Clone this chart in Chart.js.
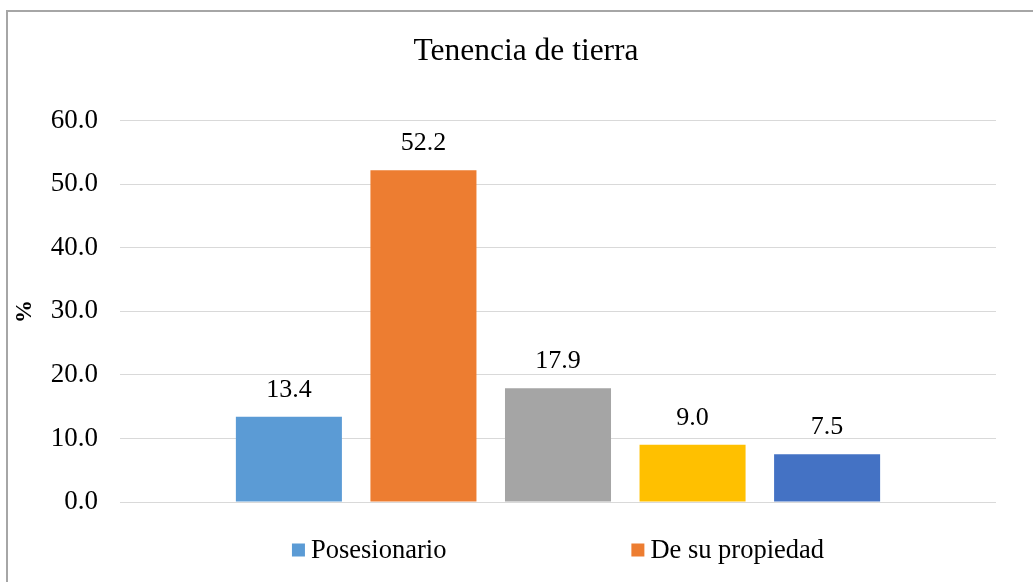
<!DOCTYPE html>
<html>
<head>
<meta charset="utf-8">
<script src="https://cdn.jsdelivr.net/npm/chart.js@4/dist/chart.umd.min.js"></script>
<style>
  html, body { margin: 0; padding: 0; background: #fff; overflow: hidden; }
  .frame {
    position: absolute; left: 6px; top: 10px; width: 1200px; height: 700px;
    border: 2px solid #a6a6a6; box-sizing: border-box;
  }
  #chart { position: absolute; left: 0; top: 0; }
</style>
</head>
<body>
<div class="frame"></div>
<canvas id="chart" width="1052" height="582"></canvas>
<script>
const chartTitle = 'Tenencia de tierra';
const categories = [''];
const seriesNames = ['Posesionario', 'De su propiedad', '', '', ''];
const seriesValues = [13.4, 52.2, 17.9, 9.0, 7.5];
const seriesColors = ['#5b9bd5', '#ed7d31', '#a5a5a5', '#ffc000', '#4472c4'];
const legendCount = 2;   // only two entries visible in the original legend
const yTicks = { min: 0, max: 60, step: 10 };

const serif = '"Liberation Serif", "Times New Roman", serif';

// value labels above each bar
const barLabels = {
  id: 'barLabels',
  afterDatasetsDraw(chart) {
    const ctx = chart.ctx;
    ctx.save();
    ctx.font = '26px ' + serif;
    ctx.fillStyle = '#000';
    ctx.textAlign = 'center';
    ctx.textBaseline = 'middle';
    chart.data.datasets.forEach((ds, i) => {
      chart.getDatasetMeta(i).data.forEach((bar, j) => {
        ctx.fillText(ds.data[j].toFixed(1), bar.x, bar.y - 27);
      });
    });
    ctx.restore();
  }
};

// legend like the excel one: wide gap, only first entries shown
const wideLegend = {
  id: 'wideLegend',
  afterDraw(chart) {
    const ctx = chart.ctx;
    const box = 13, gap = 185, textGap = 6;
    ctx.save();
    ctx.font = 'normal 26.5px ' + serif;
    ctx.textAlign = 'left';
    ctx.textBaseline = 'middle';
    const items = chart.data.datasets.slice(0, legendCount);
    const widths = items.map(ds => box + textGap + ctx.measureText(ds.label).width);
    const total = widths.reduce((a, b) => a + b, 0) + gap * (items.length - 1);
    const area = chart.chartArea;
    let x = (area.left + area.right) / 2 - total / 2;
    const y = 550;
    items.forEach((ds, i) => {
      ctx.fillStyle = ds.backgroundColor;
      ctx.fillRect(x, y - box / 2, box, box);
      ctx.fillStyle = '#000';
      ctx.fillText(ds.label, x + box + textGap, y + 1);
      x += widths[i] + gap;
    });
    ctx.restore();
  }
};

const drawChart = () => new Chart(document.getElementById('chart'), {
  type: 'bar',
  data: {
    labels: categories,
    datasets: seriesValues.map((v, i) => ({
      label: seriesNames[i],
      data: [v],
      backgroundColor: seriesColors[i],
      categoryPercentage: 0.768,
      barPercentage: 0.788
    }))
  },
  options: {
    responsive: false,
    animation: false,
    layout: { padding: { left: 0, right: 0, top: 0, bottom: 80 } },
    scales: {
      x: { display: false },
      y: {
        min: yTicks.min,
        max: yTicks.max,
        afterFit(scale) { scale.width = 120; },
        border: { display: false },
        grid: { color: '#d9d9d9', lineWidth: 1, drawTicks: false },
        ticks: {
          stepSize: yTicks.step,
          padding: 22,
          color: '#000',
          font: { family: serif, size: 27 },
          callback: v => v.toFixed(1)
        },
        title: {
          display: true,
          text: '%',
          color: '#000',
          font: { family: serif, size: 23, weight: 'bold' },
          padding: { top: 11, bottom: 0 }
        }
      },
      // empty spacer on the right so the plot stops short of the cropped edge
      yRight: {
        position: 'right',
        min: yTicks.min,
        max: yTicks.max,
        afterFit(scale) { scale.width = 56; },
        border: { display: false },
        grid: { display: false },
        ticks: { display: false }
      }
    },
    plugins: {
      legend: { display: false },
      tooltip: { enabled: false },
      title: {
        display: true,
        text: chartTitle,
        color: '#000',
        font: { family: serif, size: 31.5, weight: 'normal' },
        padding: { top: 33, bottom: 50 }
      }
    }
  },
  plugins: [barLabels, wideLegend]
});

Promise.all([
  document.fonts.load('25px "Liberation Serif"'),
  document.fonts.load('bold 22px "Liberation Serif"')
]).then(drawChart, drawChart);
</script>
</body>
</html>
